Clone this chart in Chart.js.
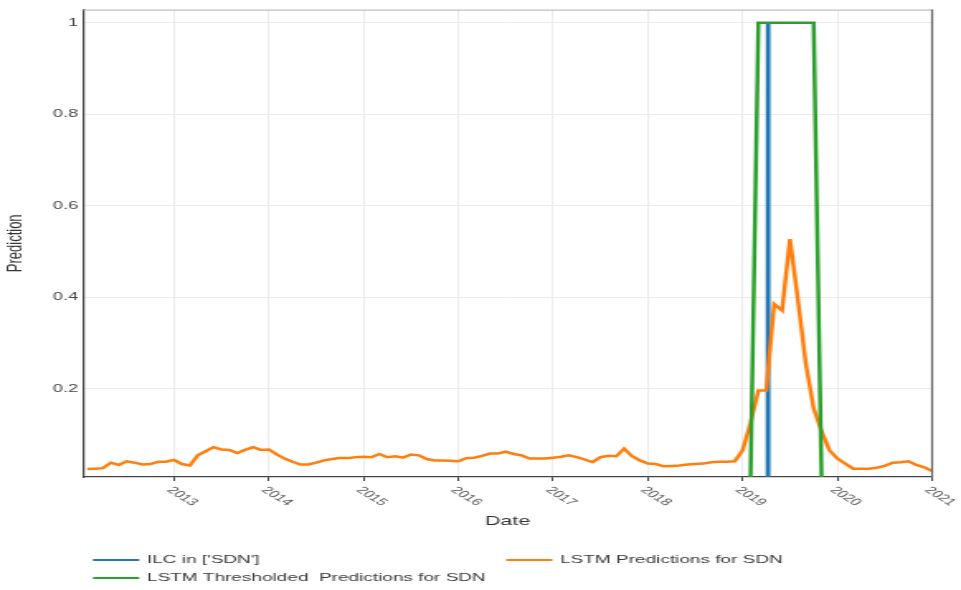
<!DOCTYPE html>
<html lang="en">
<head>
    <meta charset="UTF-8">
    <title>Prediction</title>
    <script src="https://cdn.jsdelivr.net/npm/chart.js"></script>
    <style>
        body { margin: 0; background: #fff; }
    </style>
</head>
<body>
    <!-- the source image is stretched sideways, so the canvas is drawn narrow and widened -->
    <canvas id="predChart" width="582" height="590" style="display:block;width:961px;height:590px"></canvas>
    <script>
        // monthly series, Jan 2012 .. Dec 2020 (month-end dates)
        const startYear = 2012;
        const monthCount = 108;

        const lstmPred = [
            0.024, 0.025, 0.026, 0.038, 0.033, 0.041, 0.038, 0.034, 0.035, 0.040, 0.040, 0.044,
            0.035, 0.032, 0.054, 0.063, 0.072, 0.067, 0.066, 0.059, 0.066, 0.072, 0.066, 0.067,
            0.056, 0.047, 0.040, 0.034, 0.034, 0.038, 0.043, 0.046, 0.048, 0.048, 0.050, 0.051,
            0.050, 0.057, 0.050, 0.052, 0.049, 0.056, 0.054, 0.046, 0.043, 0.043, 0.042, 0.041,
            0.048, 0.049, 0.053, 0.058, 0.058, 0.062, 0.057, 0.054, 0.047, 0.047, 0.047, 0.049,
            0.051, 0.054, 0.050, 0.045, 0.039, 0.050, 0.053, 0.052, 0.069, 0.052, 0.043, 0.036,
            0.035, 0.030, 0.031, 0.032, 0.034, 0.035, 0.036, 0.039, 0.040, 0.040, 0.041, 0.065,
            0.125, 0.196, 0.196, 0.385, 0.371, 0.527, 0.395, 0.255, 0.157, 0.107, 0.065, 0.047,
            0.036, 0.025, 0.025, 0.025, 0.027, 0.031, 0.038, 0.039, 0.041, 0.033, 0.028, 0.020
        ];

        const lstmThresh = [
            0, 0, 0, 0, 0, 0, 0, 0, 0, 0, 0, 0,
            0, 0, 0, 0, 0, 0, 0, 0, 0, 0, 0, 0,
            0, 0, 0, 0, 0, 0, 0, 0, 0, 0, 0, 0,
            0, 0, 0, 0, 0, 0, 0, 0, 0, 0, 0, 0,
            0, 0, 0, 0, 0, 0, 0, 0, 0, 0, 0, 0,
            0, 0, 0, 0, 0, 0, 0, 0, 0, 0, 0, 0,
            0, 0, 0, 0, 0, 0, 0, 0, 0, 0, 0, 0,
            0, 1, 1, 1, 1, 1, 1, 1, 1, 0, 0, 0,
            0, 0, 0, 0, 0, 0, 0, 0, 0, 0, 0, 0
        ];

        // ILC flag, as decimal years
        const ilcDates = [2012.083, 2019.265, 2019.267, 2019.271, 2019.273, 2021.0];
        const ilcValues = [0, 0, 1, 1, 0, 0];

        const xTicks = [2013, 2014, 2015, 2016, 2017, 2018, 2019, 2020, 2021];
        const yTicks = [0.2, 0.4, 0.6, 0.8, 1];

        const labels = {
            ilc: "ILC in ['SDN']",
            pred: 'LSTM Predictions for SDN',
            thresh: 'LSTM Thresholded  Predictions for SDN'
        };

        const monthX = [];
        for (let i = 0; i < monthCount; i++) {
            monthX.push(startYear + (i + 1) / 12);
        }
        const toPoints = (xs, ys) => xs.map((x, i) => ({ x: x, y: ys[i] }));

        const FONT = '"Liberation Sans", Arial, sans-serif';

        // year labels slanted downwards, top border and the two-column legend
        const extras = {
            id: 'extras',
            afterDraw(chart) {
                const ctx = chart.ctx;
                const area = chart.chartArea;
                const xs = chart.scales.x;
                ctx.save();

                ctx.lineWidth = 1;
                ctx.strokeStyle = '#b0b0b0';
                ctx.beginPath();
                ctx.moveTo(area.left, area.top + 0.5);
                ctx.lineTo(area.right, area.top + 0.5);
                ctx.stroke();
                ctx.strokeStyle = '#666';
                ctx.lineWidth = 1.2;
                ctx.beginPath();
                ctx.moveTo(area.right, area.top);
                ctx.lineTo(area.right, area.bottom);
                ctx.stroke();

                ctx.font = '10px ' + FONT;
                ctx.fillStyle = '#555';
                ctx.textAlign = 'left';
                ctx.textBaseline = 'middle';
                xs.ticks.forEach(t => {
                    const px = xs.getPixelForValue(t.value);
                    ctx.save();
                    ctx.translate(px - 3, area.bottom + 11.5);
                    ctx.rotate(Math.PI / 4);
                    ctx.fillText(String(t.value), 0, 0);
                    ctx.restore();
                });

                // legend: [dataset index, line x, text x, y]
                const items = [[0, 56.3, 89, 560], [1, 306.5, 339.2, 560], [2, 56.3, 89, 578]];
                ctx.font = '11.5px ' + FONT;
                ctx.fillStyle = '#3a3a3a';
                items.forEach(([di, lx, tx, y]) => {
                    const ds = chart.data.datasets[di];
                    ctx.strokeStyle = ds.borderColor;
                    ctx.lineWidth = 2;
                    ctx.beginPath();
                    ctx.moveTo(lx, y);
                    ctx.lineTo(lx + 28, y);
                    ctx.stroke();
                    ctx.fillText(ds.label, tx, y);
                });
                ctx.restore();
            }
        };

        const ctx = document.getElementById('predChart').getContext('2d');
        new Chart(ctx, {
            type: 'line',
            data: {
                datasets: [
                    {
                        label: labels.ilc,
                        data: toPoints(ilcDates, ilcValues),
                        borderColor: '#1f77b4',
                        borderWidth: 2.5,
                        order: 3
                    },
                    {
                        label: labels.pred,
                        data: toPoints(monthX, lstmPred),
                        borderColor: '#ff7f0e',
                        borderWidth: 2.5,
                        order: 2
                    },
                    {
                        label: labels.thresh,
                        data: toPoints(monthX, lstmThresh),
                        borderColor: '#2ca02c',
                        borderWidth: 2.5,
                        order: 1
                    }
                ]
            },
            options: {
                responsive: false,
                devicePixelRatio: 1,
                animation: false,
                layout: { padding: { top: 6, right: 17.5, bottom: 0, left: 0 } },
                elements: { point: { radius: 0 }, line: { tension: 0 } },
                datasets: { line: { clip: 0 } },
                plugins: { legend: { display: false }, tooltip: { enabled: false } },
                scales: {
                    x: {
                        type: 'linear',
                        min: 2012.04,
                        max: 2021,
                        afterBuildTicks: s => { s.ticks = xTicks.map(v => ({ value: v })); },
                        afterFit: s => { s.height = 113; },
                        ticks: { display: false },
                        grid: { color: '#ececec', tickColor: '#444', tickLength: 4, lineWidth: 1 },
                        border: { color: '#444', width: 1.2 },
                        title: {
                            display: true,
                            text: 'Date',
                            color: '#333',
                            font: { family: FONT, size: 13 },
                            padding: { top: 0, bottom: 61 }
                        }
                    },
                    y: {
                        min: 0.0067,
                        max: 1.029,
                        afterBuildTicks: s => { s.ticks = yTicks.map(v => ({ value: v })); },
                        afterFit: s => { s.width = 50.3; },
                        ticks: {
                            padding: 3,
                            color: '#444',
                            font: { family: FONT, size: 11 },
                            callback: v => (v === 1 ? '1' : v.toFixed(1))
                        },
                        grid: { color: '#ececec', drawTicks: false },
                        border: { color: '#444', width: 1.2 },
                        title: {
                            display: true,
                            text: 'Prediction',
                            color: '#333',
                            font: { family: FONT, size: 13 },
                            padding: { top: 1.3, bottom: 0 }
                        }
                    }
                }
            },
            plugins: [extras]
        });
    </script>
</body>
</html>
